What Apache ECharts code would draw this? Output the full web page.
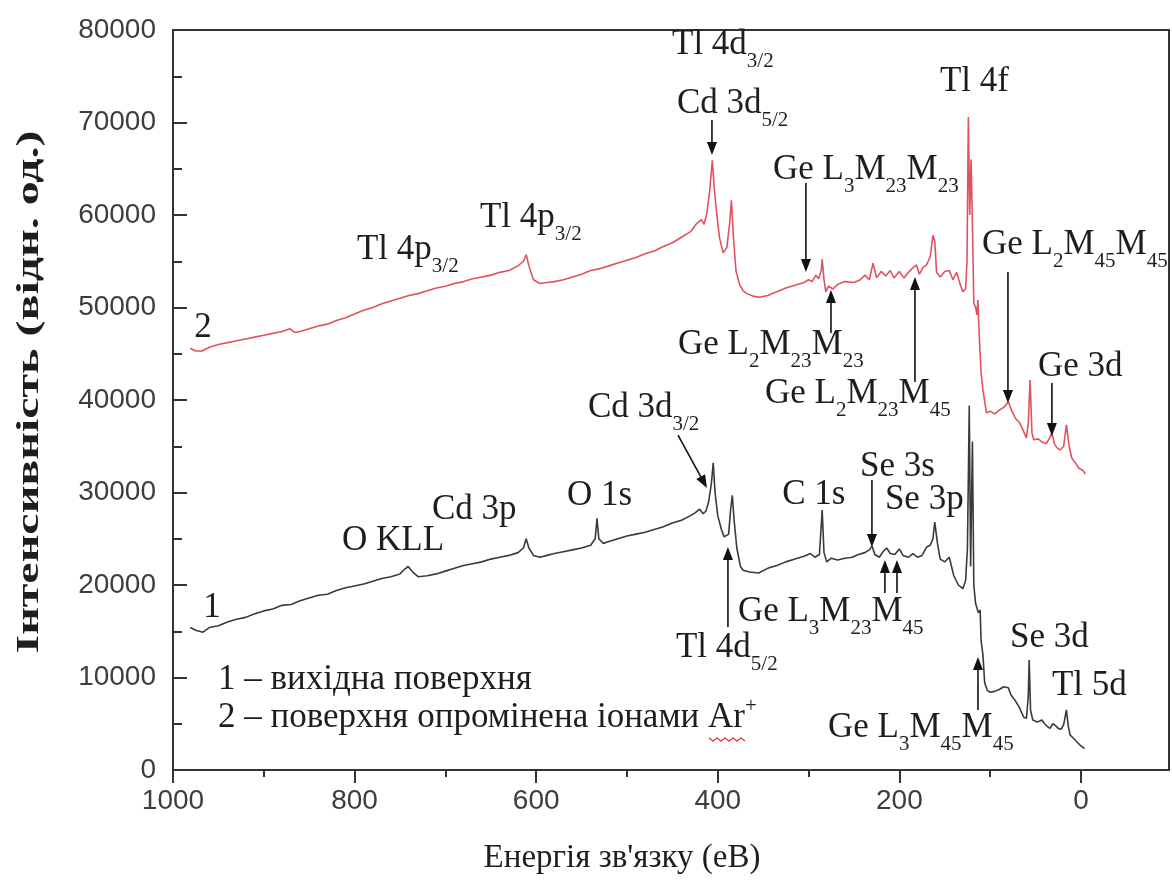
<!DOCTYPE html>
<html><head><meta charset="utf-8">
<script src="https://cdn.jsdelivr.net/npm/echarts@6/dist/echarts.min.js"></script>
<style>html,body{margin:0;padding:0;background:#fff}#c{width:1172px;height:880px}</style>
</head><body><div id="c"></div>
<script>
// Spectrum 1 – initial surface (binding energy, eV / intensity, a.u.)
const energy1 = [981,975,967,960,950,940,930,920,910,900,890,880,870,860,850,840,830,820,810,800,790,780,770,760,750,745,741,736,730,720,710,700,690,680,670,660,650,640,630,620,614,611,608,603,596,588,580,570,560,550,540,535,533,531,526,520,510,500,490,480,470,460,450,440,430,425,420,416,413,410,407,405,403,400,396,393,388,386,384,382,379,375,372,365,355,345,335,325,315,305,298,293,288,285,283,280,275,268,260,252,245,238,233,230,227,222,218,214,210,205,200,196,190,185,180,175,170,166,163,161,158,155,150,145,140,135,130,127,125,123,121.5,119.5,118,116,113,111,110,108,106,103,100,95,90,85,80,77,73,68,63,60,58,57,55.5,53,48,43,40,37,34,31,28,25,22,19,16,14,12,8,4,0,-4];
const counts1 = [15400,15100,14900,15400,15600,16000,16300,16500,16900,17200,17400,17800,17900,18300,18600,18900,19000,19400,19700,19900,20100,20400,20700,20900,21200,21700,22000,21400,20900,21000,21200,21500,21800,22100,22300,22500,22800,23000,23200,23500,24000,25000,24000,23200,23000,23200,23400,23600,23800,24000,24300,25000,27200,25000,24500,24700,25000,25300,25500,25700,26000,26300,26700,27000,27500,27800,28200,27700,28000,29000,31000,33200,30000,27500,26000,25200,25500,28000,29700,27000,24000,22000,21600,21400,21300,21800,22100,22500,22800,23100,23400,23000,23300,28100,23500,22500,22900,22700,22900,23000,23300,23500,23800,24200,23300,23000,23600,24000,23400,23300,23900,23200,23000,23400,23000,23200,24100,24300,25000,26800,24500,22800,22500,23000,21000,20000,19600,20500,24000,39400,22000,35500,20000,18000,17000,17300,14000,12500,9400,8600,8400,8500,8700,9000,8900,8100,7600,6800,5700,5600,8000,11900,6500,5400,5200,5400,5000,4700,4500,5000,4800,4500,4400,4900,6500,4800,3800,3400,3000,2600,2300];
// Spectrum 2 – surface irradiated with Ar+ ions
const energy2 = [981,975,968,960,950,940,930,920,910,900,890,880,871,866,860,850,840,830,820,810,800,790,780,770,760,750,740,730,720,710,700,690,680,670,660,650,640,630,620,614,611,608,603,596,588,580,570,560,550,540,530,520,510,500,490,480,470,460,450,440,430,423,418,415,412,409,406,404,401,398,394,390,387,385,383,380,376,372,368,360,354,345,335,325,315,305,300,296,292,289,286,285,283,281,278,273,268,260,250,243,238,233,229,225,220,215,210,206,200,195,190,185,181,178,174,170,166,163,161,159,155,150,145,141,137,133,130,127,125.5,124,122.5,121,119.5,118,116,114.5,113.5,112,110,108,104,100,95,90,85,80,76,72,68,64,60,58,56,54,52,47,42,38,35,32,29,26,23,19,16,13,10,6,2,-2,-5];
const counts2 = [45600,45300,45300,45700,46000,46200,46400,46600,46800,47000,47200,47400,47700,47300,47400,47700,48000,48200,48600,48900,49300,49700,50000,50400,50700,51000,51300,51500,51800,52100,52300,52600,52800,53100,53300,53500,53800,54000,54500,55000,55700,54500,53000,52600,52700,52800,53000,53300,53600,54000,54200,54500,54800,55100,55400,55800,56100,56600,57000,57600,58200,59100,59500,59000,60200,62500,65900,63000,60000,57500,55900,56500,59000,61600,58000,54000,52500,51800,51500,51200,51100,51300,51700,52100,52400,52700,53000,52800,53500,53100,54000,55200,53000,51700,52300,52000,52500,52800,52700,53000,53500,53000,54800,53200,53900,53400,54000,53200,53900,53200,53800,54300,54600,53600,54300,54600,55500,57800,57200,53800,53300,53900,54000,53000,53800,52500,51700,52000,55000,70600,60000,66000,59000,50500,50000,49200,50800,47000,43000,41100,38600,38800,38500,38900,39200,39800,38800,38000,37600,36800,35900,37500,42150,36500,35700,35800,35400,35300,35800,36400,35200,34800,34600,35000,37300,35000,33700,33200,32600,32400,32000];

const xTicks = [0, 200, 400, 600, 800, 1000];
const xMinorTicks = [100, 300, 500, 700, 900];
const xTitle = "Енергія зв'язку (еВ)";
const yTitle = "Інтенсивність (відн. од.)";

// Peak labels: [text, energy, intensity, align]
const labels = [
  ['2', 967, 47780, 'center'],
  ['1', 957, 17510, 'center'],
  ['Tl 4p{s|3/2}', 797.4, 56210, 'left'],
  ['Tl 4p{s|3/2}', 661.9, 59670, 'left'],
  ['Tl 4d{s|3/2}', 450.4, 78370, 'left'],
  ['Cd 3d{s|5/2}', 445, 72000, 'left'],
  ['Ge L{s|3}M{s|23}M{s|23}', 339.2, 64860, 'left'],
  ['Tl 4f', 155.3, 74370, 'left'],
  ['Ge L{s|2}M{s|45}M{s|45}', 109.0, 56750, 'left'],
  ['Ge 3d', 47.4, 43560, 'left'],
  ['Ge L{s|2}M{s|23}M{s|23}', 443.8, 45940, 'left'],
  ['Ge L{s|2}M{s|23}M{s|45}', 348.0, 40650, 'left'],
  ['Cd 3d{s|3/2}', 543, 39130, 'left'],
  ['O 1s', 566, 29620, 'left'],
  ['O KLL', 813.9, 24750, 'left'],
  ['Cd 3p', 714.8, 28110, 'left'],
  ['C 1s', 329, 29730, 'left'],
  ['Se 3s', 243.4, 32750, 'left'],
  ['Se 3p', 215.9, 29190, 'left'],
  ['Ge L{s|3}M{s|23}M{s|45}', 377.8, 17080, 'left'],
  ['Tl 4d{s|5/2}', 446, 13190, 'left'],
  ['Se 3d', 78.2, 14270, 'left'],
  ['Tl 5d', 31.9, 9080, 'left'],
  ['Ge L{s|3}M{s|45}M{s|45}', 278.6, 4540, 'left'],
  ['1 – вихідна поверхня', 950.4, 9730, 'left'],
  ['2 – поверхня опромінена іонами Ar{p|+}', 950.4, 5620, 'left']
];
// Arrows: [fromEnergy, fromIntensity, toEnergy, toIntensity]
const arrows = [
  [406.4, 70270, 406.4, 66480],
  [302.9, 63460, 302.9, 53830],
  [275.3, 47240, 275.3, 51890],
  [182.8, 41940, 182.8, 53290],
  [80.4, 53830, 80.4, 39670],
  [32, 41830, 32, 36110],
  [443.8, 36210, 411.9, 30480],
  [230.2, 31350, 230.2, 24110],
  [215.9, 19130, 215.9, 22700],
  [202.6, 19130, 202.6, 22700],
  [388.8, 15460, 388.8, 24110],
  [113.4, 6490, 113.4, 12220]
];

const zip = (a, b) => a.map((v, i) => [v, b[i]]);
const AX = '#333';
const SERIF = '"Liberation Serif", "DejaVu Serif", serif';
const SANS = '"Liberation Sans", Arial, sans-serif';

const chart = echarts.init(document.getElementById('c'));
const xBase = {
  type: 'value', inverse: true, min: -97, max: 1000, position: 'bottom',
  splitLine: {show: false}
};
chart.setOption({
  animation: false,
  backgroundColor: '#fff',
  grid: {left: 173, right: 3, top: 30, bottom: 110, show: true, borderColor: AX, borderWidth: 2, backgroundColor: 'transparent'},
  xAxis: [
    Object.assign({}, xBase, {
      axisLine: {show: true, onZero: false, lineStyle: {color: AX, width: 2}},
      axisTick: {show: true, inside: false, length: 13, lineStyle: {color: AX, width: 2}, customValues: xTicks},
      axisLabel: {show: true, customValues: xTicks, fontSize: 28, margin: 17, color: '#3d3d3d', fontFamily: SANS, formatter: v => String(v)}
    }),
    Object.assign({}, xBase, {
      axisLine: {show: false, onZero: false},
      axisTick: {show: true, inside: false, length: 7, lineStyle: {color: AX, width: 2}, customValues: xMinorTicks},
      axisLabel: {show: false}
    })
  ],
  yAxis: {
    type: 'value', min: 0, max: 80000, interval: 10000, position: 'left',
    splitLine: {show: false},
    axisLine: {show: true, onZero: false, lineStyle: {color: AX, width: 2}},
    axisTick: {show: true, inside: true, length: 14, lineStyle: {color: AX, width: 2}},
    minorTick: {show: true, splitNumber: 2, length: 9, lineStyle: {color: AX, width: 2}},
    axisLabel: {fontSize: 28, margin: 17, color: '#3d3d3d', fontFamily: SANS, formatter: v => String(v)}
  },
  series: [
    {type: 'line', name: '1', xAxisIndex: 0, data: zip(energy1, counts1), symbol: 'none', lineStyle: {color: '#3a3a3a', width: 1.6}, z: 3},
    {type: 'line', name: '2', xAxisIndex: 0, data: zip(energy2, counts2), symbol: 'none', lineStyle: {color: '#e0525e', width: 1.6}, z: 3}
  ]
});

const toPx = (e, i) => chart.convertToPixel({seriesIndex: 0}, [e, i]);
const g = [];
labels.forEach(([t, e, i, al]) => {
  const p = toPx(e, i);
  g.push({
    type: 'text', x: p[0], y: p[1], z: 10,
    style: {
      text: t, fill: '#1e1e1e', fontSize: 35, fontFamily: SERIF, align: al, verticalAlign: 'middle',
      rich: {
        s: {fontSize: 21, fontFamily: SERIF, fill: '#1e1e1e', padding: [32, 0, 0, 0]},
        p: {fontSize: 21, fontFamily: SERIF, fill: '#1e1e1e', padding: [0, 0, 24, 0]}
      }
    }
  });
});
arrows.forEach(([e1, i1, e2, i2]) => {
  const a = toPx(e1, i1), b = toPx(e2, i2);
  const dx = b[0] - a[0], dy = b[1] - a[1], L = Math.hypot(dx, dy);
  const ux = dx / L, uy = dy / L, hl = 13, hw = 5;
  const bx = b[0] - ux * hl, by = b[1] - uy * hl;
  g.push({type: 'line', z: 10, shape: {x1: a[0], y1: a[1], x2: bx, y2: by}, style: {stroke: '#111', lineWidth: 1.6}});
  g.push({type: 'polygon', z: 10, shape: {points: [[b[0], b[1]], [bx - uy * hw, by + ux * hw], [bx + uy * hw, by - ux * hw]]}, style: {fill: '#111'}});
});
// spell-check style wavy underline under "Ar"
const wave = [];
for (let k = 0; k <= 9; k++) wave.push([709 + k * 4, 738 + (k % 2 ? 3 : 0)]);
g.push({type: 'polyline', z: 11, shape: {points: wave}, style: {stroke: '#e03030', lineWidth: 1.2, fill: null}});
// axis titles
g.push({type: 'text', x: 622, y: 858, style: {text: xTitle, fontSize: 33, fontFamily: SERIF, fill: '#1e1e1e', align: 'center', verticalAlign: 'middle'}});
g.push({type: 'text', x: 30, y: 392, rotation: Math.PI / 2, scaleX: 1.5, style: {text: yTitle, fontSize: 32, fontWeight: 'bold', fontFamily: SERIF, fill: '#1e1e1e', align: 'center', verticalAlign: 'middle'}});
chart.setOption({graphic: g});
</script>
</body></html>
